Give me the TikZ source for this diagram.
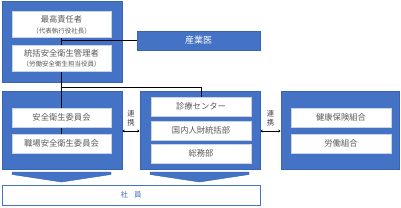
\documentclass[tikz,border=0pt]{standalone}
\usepackage{fontspec}
\usetikzlibrary{arrows.meta}
\setmainfont{Noto Sans CJK JP}
\definecolor{bluebox}{HTML}{4472C4}
\definecolor{blueedge}{HTML}{3A64B0}
\definecolor{wedge}{HTML}{C9D3E6}
\definecolor{txtgray}{HTML}{595959}
\definecolor{rkgray}{HTML}{404040}
\begin{document}
\begin{tikzpicture}[x=1pt,y=-1pt,
  bluepanel/.style={draw=blueedge,line width=0.5pt,fill=bluebox},
  whitebox/.style={draw=wedge,line width=0.5pt,fill=white,inner sep=0pt,text=txtgray,font=\fontsize{8.3}{10}\selectfont,align=center},
  maintxt/.style={inner sep=0pt,text=txtgray,font=\fontsize{8.3}{10}\selectfont},
  subtxt/.style={inner sep=0pt,text=txtgray,font=\fontsize{6.5}{7}\selectfont},
  link/.style={line width=0.9pt,black},
  renkei/.style={inner sep=0pt,text=rkgray,font=\fontsize{7.3}{8}\selectfont},
  dblarrow/.style={line width=0.8pt,black,{Stealth[length=2.2pt,width=3pt]}-{Stealth[length=2.2pt,width=3pt]}},
  chevron/.style={fill=bluebox,draw=blueedge,line width=0.4pt}]
\useasboundingbox (0,0) rectangle (401,207);
% blue panels
\draw[bluepanel] (2,1) rectangle (122,82);
\draw[bluepanel] (2,91) rectangle (122,169);
\draw[bluepanel] (140,91) rectangle (260,169);
\draw[bluepanel] (281,91) rectangle (399,169);
\node[draw=blueedge,line width=0.5pt,fill=bluebox,minimum width=123pt,minimum height=19pt,inner sep=0pt,text=white,font=\fontsize{9}{10}\selectfont] (sangyoi) at (198.5,40.5) {産業医};
% coordinates for connectors
\coordinate (vtop) at (61.5,24);
\coordinate (junction) at (61.5,87);
\path (61.5,24) coordinate (c1) (61.5,58) coordinate (c2)
      (61.5,117.5) coordinate (c3) (61.5,143.5) coordinate (c4);
% connectors behind white boxes
\node[inner sep=0pt,minimum size=0pt] (shokuanchor) at (61.5,143.5) {};
\draw[link] (vtop) -- (shokuanchor.center);
\draw[link] (vtop |- sangyoi.west) -- (sangyoi.west);
\draw[link] (junction) -| (201,98);
% top white boxes
\node[whitebox,minimum width=99pt,minimum height=26pt] (top1) at (c1) {};
\node[maintxt] (top1t) at (61.5,19.5) {最高責任者};
\node[subtxt] (top1s) at (61.5,31) {（代表執行役社長）};
\node[whitebox,minimum width=99pt,minimum height=26pt] (top2) at (c2) {};
\node[maintxt] (top2t) at (61.5,53) {統括安全衛生管理者};
\node[subtxt] (top2s) at (61.5,64.5) {（労働安全衛生担当役員）};
% left
\node[whitebox,minimum width=99pt,minimum height=19pt] (anzen) at (c3) {安全衛生委員会};
\node[whitebox,minimum width=99pt,minimum height=19pt] (shokuba) at (c4) {職場安全衛生委員会};
% middle
\node[whitebox,minimum width=100pt,minimum height=19pt] (shinryo) at (201,106.5) {診療センター};
\node[whitebox,minimum width=100pt,minimum height=19pt] (kokunai) at (201,130.5) {国内人財統括部};
\node[whitebox,minimum width=100pt,minimum height=19pt] (somu) at (201,153.5) {総務部};
% right
\node[whitebox,minimum width=100pt,minimum height=19pt] (kenpo) at (341,117.5) {健康保険組合};
\node[whitebox,minimum width=100pt,minimum height=19pt] (rodo) at (341,143.5) {労働組合};
% renkei
\node[renkei] (rk1a) at (131,113.5) {連};
\node[renkei] (rk1b) at (131,122.5) {携};
\node[renkei] (rk2a) at (270.5,113.5) {連};
\node[renkei] (rk2b) at (270.5,122.5) {携};
\coordinate (a1l) at (122.5,131); \coordinate (a1r) at (139.5,131);
\coordinate (a2l) at (260.5,131); \coordinate (a2r) at (280.5,131);
\draw[dblarrow] (a1l) -- (a1r);
\draw[dblarrow] (a2l) -- (a2r);
% chevrons
\draw[chevron] (12,172) -- (111,172) -- (111,174.5) -- (61.5,182) -- (12,174.5) -- cycle;
\draw[chevron] (150,172) -- (249,172) -- (249,174.5) -- (199.5,182) -- (150,174.5) -- cycle;
% shain
\node[draw=bluebox,line width=0.7pt,fill=white,minimum width=258pt,minimum height=20pt,inner sep=0pt,text=bluebox,font=\fontsize{7.5}{9}\selectfont] (shain) at (131,195) {社\hspace{6pt}員};
\end{tikzpicture}
\end{document}
